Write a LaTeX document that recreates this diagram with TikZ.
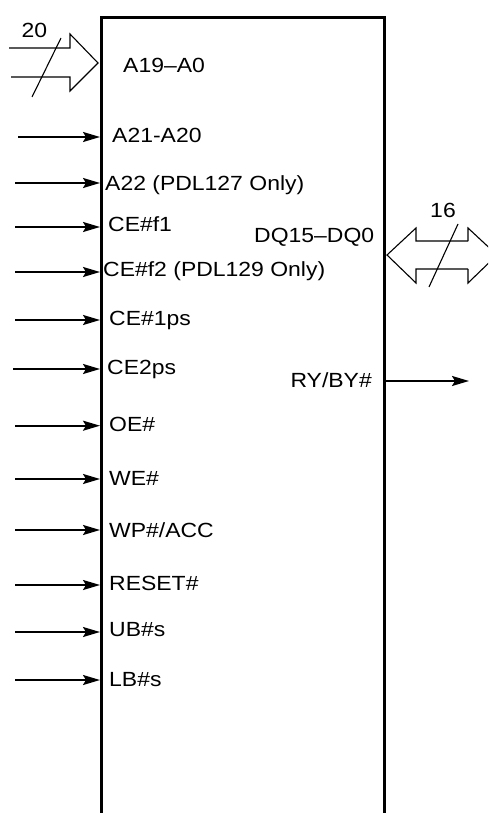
\documentclass[tikz,border=0pt]{standalone}
\usepackage{fontspec}
\setmainfont{Liberation Sans}[FakeStretch=1.12]
\usetikzlibrary{arrows.meta}
\begin{document}
\begin{tikzpicture}[x=1pt,y=-1pt,
  lbl/.style={inner sep=0pt,font=\fontsize{20.5}{23}\selectfont},
  sig/.style={line width=1.9pt,-{Stealth[length=17pt,width=10pt,inset=3pt]}},
  hollow/.style={line width=1.1pt,line join=miter},
  boxline/.style={line width=3.3pt}]
\useasboundingbox (0,0) rectangle (488,813);
\clip (0,0) rectangle (488,813);
% chip body (open at the bottom)
\draw[boxline] (101.7,813) -- (101.7,17.3) -- (384.3,17.3) -- (384.3,813);
% address bus A19-A0
\draw[hollow] (9,48) -- (70,48) -- (70,34) -- (98,63) -- (70,91) -- (70,77) -- (11,77);
\coordinate (slA1) at (61,38);
\coordinate (slA2) at (32,97);
\draw[hollow] (slA1) -- (slA2);
\node[lbl,anchor=base] (n20) at (34.5,37.7) {20};
\node[lbl,anchor=base west] (lA19) at (123,72.3) {A19–A0};
% data bus DQ15-DQ0
\draw[hollow] (468,241) -- (416,241) -- (416,228) -- (387,255) -- (416,283) -- (416,269) -- (468,269);
\draw[hollow] (468,241) -- (468,228) -- (497,255) -- (468,283) -- (468,269);
\coordinate (slD1) at (458,224);
\coordinate (slD2) at (429,287);
\draw[hollow] (slD1) -- (slD2);
\node[lbl,anchor=base] (n16) at (443,217.3) {16};
\node[lbl,anchor=base west] (lDQ) at (254,242.3) {DQ15–DQ0};
% input signals
\foreach \nm/\sx/\ay/\lx/\by/\txt in {
  A21/18/137/112/143/{A21-A20},
  A22/15/183/105/190.7/{A22 (PDL127 Only)},
  CEa/15/227/108/231.7/{CE\#f1},
  CEb/15/272/103/276.7/{CE\#f2 (PDL129 Only)},
  CEc/15/320/109/325/{CE\#1ps},
  CEd/13/369/107/374.3/{CE2ps},
  OE/15/425.7/109/431.7/{OE\#},
  WE/15/479/109/485/{WE\#},
  WP/15/530/109/537.3/{WP\#/ACC},
  RS/15/585/109/590/{RESET\#},
  UB/15/632/109/636.7/{UB\#s},
  LB/15/680/109/686/{LB\#s}}{
  \coordinate (s\nm) at (\sx,\ay);
  \coordinate (p\nm) at (100,\ay);
  \draw[sig] (s\nm) -- (p\nm);
  \node[lbl,anchor=base west] (l\nm) at (\lx,\by) {\txt};
}
% output RY/BY#
\coordinate (pRY) at (386,381);
\coordinate (eRY) at (469,381);
\draw[sig] (pRY) -- (eRY);
\node[lbl,anchor=base east] (lRY) at (372,387.5) {RY/BY\#};
\end{tikzpicture}
\end{document}
